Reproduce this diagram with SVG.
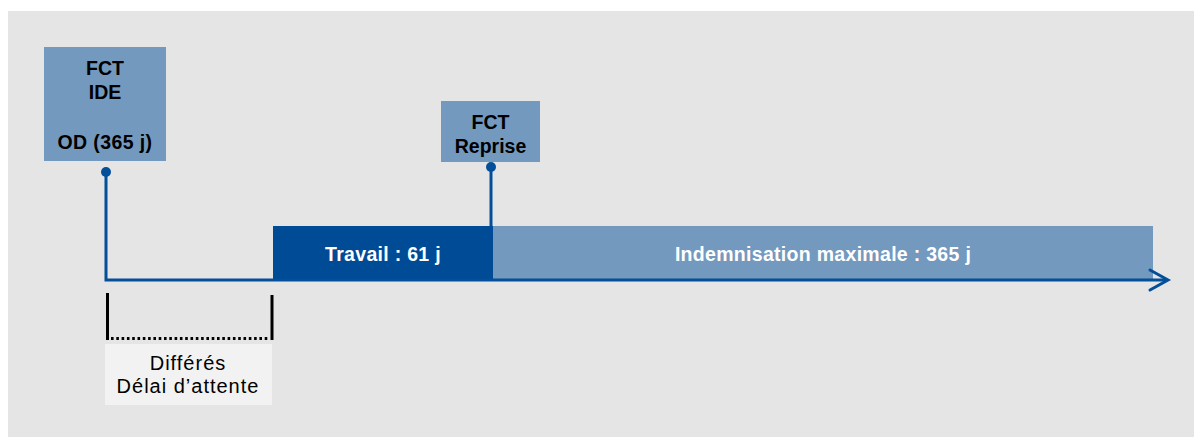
<svg xmlns="http://www.w3.org/2000/svg" width="1194" height="437" viewBox="0 0 1194 437">
<style>
.box{fill:#7399bf}
.dark{fill:#004b96}
.lbl{font-family:"Liberation Sans",Arial,sans-serif;font-weight:bold;font-size:19.5px;fill:#000;text-anchor:middle}
.wlbl{font-family:"Liberation Sans",Arial,sans-serif;font-weight:bold;font-size:19.5px;fill:#fff;text-anchor:middle;letter-spacing:0.3px}
.note{font-family:"Liberation Sans",Arial,sans-serif;font-size:20px;fill:#000;text-anchor:middle;letter-spacing:1px}
.blue{stroke:#034f9a;stroke-width:3;fill:none}
</style>
<rect x="0" y="0" width="1194" height="437" fill="#ffffff"/>
<rect x="8" y="11" width="1186" height="426" fill="#e5e5e5"/>
<g id="indemnisation">
<rect class="box" x="493" y="226" width="660" height="53"/>
<text class="wlbl" x="823" y="261">Indemnisation maximale : 365 j</text>
</g>
<g id="travail">
<rect class="dark" x="273" y="226" width="220" height="53"/>
<text class="wlbl" x="383" y="261">Travail : 61 j</text>
</g>
<g id="fct-ide">
<rect class="box" x="44" y="47" width="122" height="114"/>
<text class="lbl" x="105" y="75">FCT</text>
<text class="lbl" x="105" y="99">IDE</text>
<text class="lbl" x="105" y="149" letter-spacing="0.4">OD (365 j)</text>
</g>
<g id="fct-reprise">
<rect class="box" x="441" y="101" width="99" height="61"/>
<text class="lbl" x="490.5" y="129">FCT</text>
<text class="lbl" x="490.5" y="153">Reprise</text>
</g>
<g id="differes">
<rect x="105" y="344" width="167" height="61" fill="#f2f2f2"/>
<text class="note" x="188" y="370">Différés</text>
<text class="note" x="188" y="393">Délai d’attente</text>
</g>
<g id="connectors">
<circle cx="106" cy="172" r="5" fill="#034f9a"/>
<polyline class="blue" points="106,172 106,280 1167,280"/>
<polyline class="blue" points="1150,270 1168,280 1150,290" stroke-width="4" stroke-linecap="round" stroke-linejoin="miter"/>
<circle cx="491" cy="167" r="5" fill="#034f9a"/>
<line class="blue" x1="491" y1="167" x2="491" y2="226"/>
<line x1="107.5" y1="293" x2="107.5" y2="340" stroke="#000" stroke-width="3"/>
<line x1="272" y1="295" x2="272" y2="340" stroke="#000" stroke-width="3"/>
<line x1="111" y1="338.5" x2="270" y2="338.5" stroke="#000" stroke-width="3" stroke-dasharray="2.6 2.7"/>
</g>
</svg>
